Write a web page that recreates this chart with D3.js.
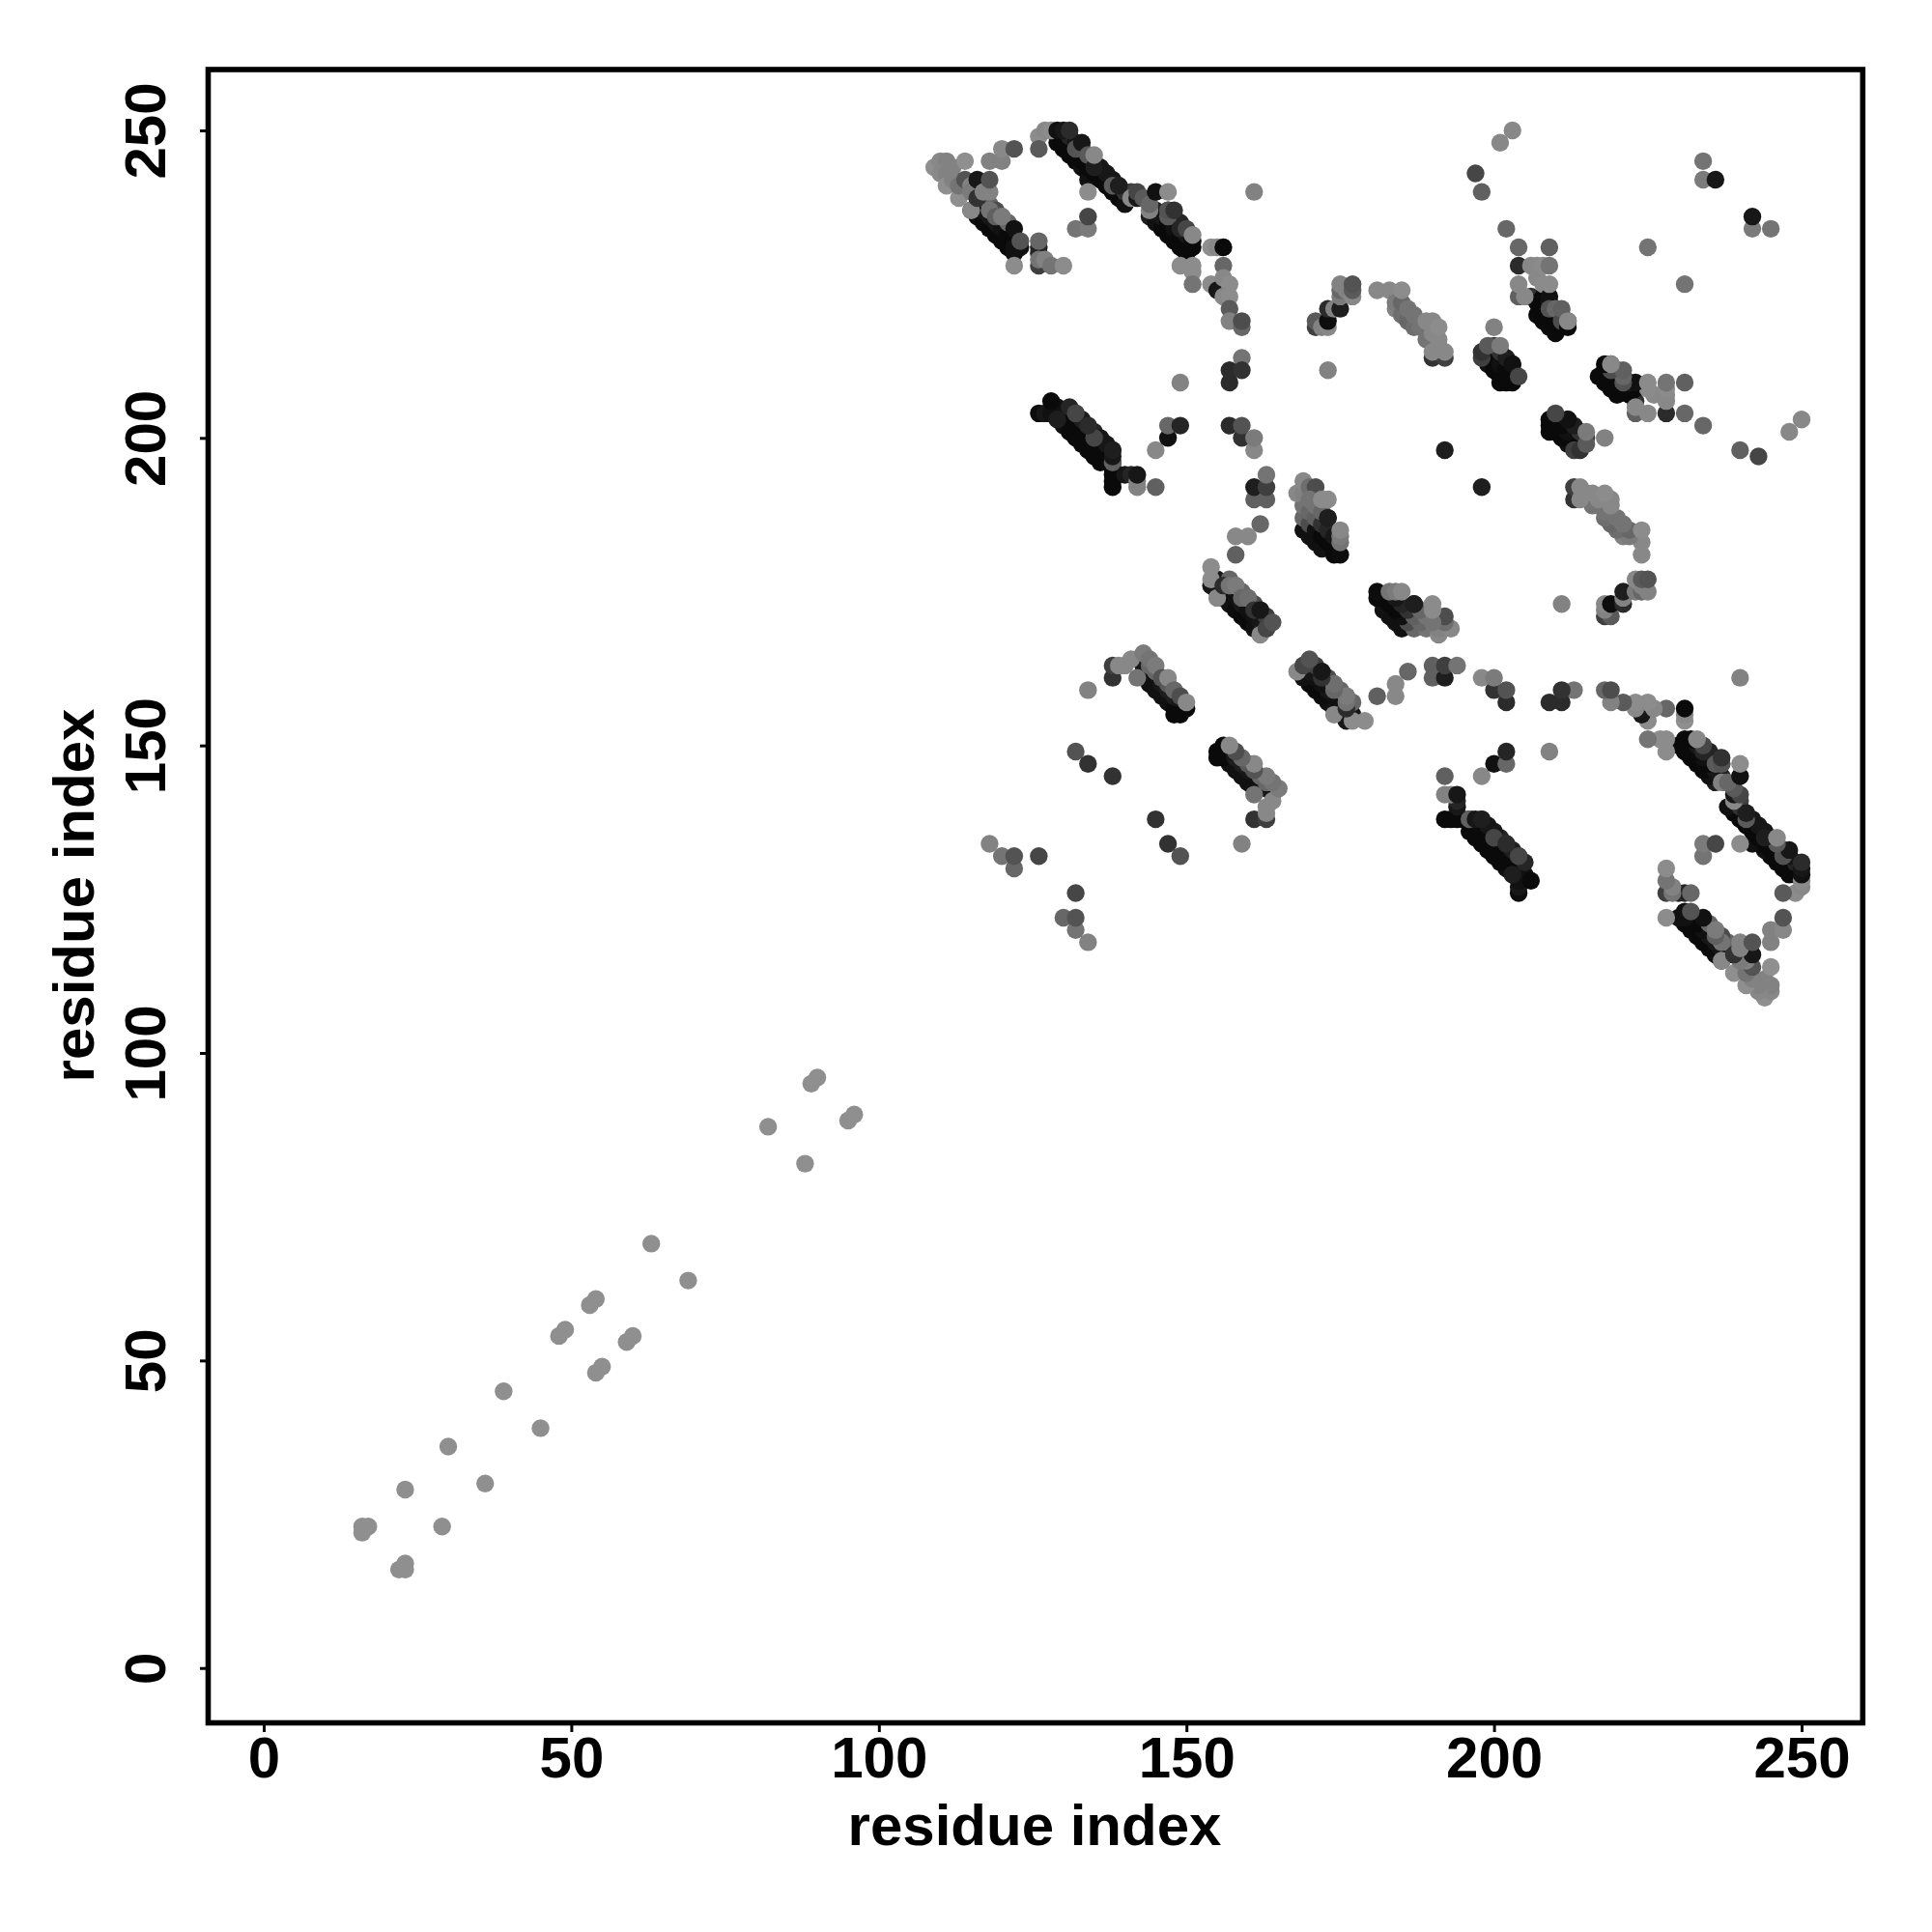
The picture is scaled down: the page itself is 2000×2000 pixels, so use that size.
<!DOCTYPE html>
<html><head><meta charset="utf-8"><script src="https://cdn.jsdelivr.net/npm/d3@7"></script>
<style>html,body{margin:0;background:#fff}svg{display:block}text{font-family:"Liberation Sans",Arial,sans-serif;font-weight:700;fill:#000}</style></head>
<body><div id="c"></div><script>
// contacts [residue i, residue j, strength 0..1], upper triangle; the map is symmetric
const strandUnder=[
[115,237,.9],[116,236,.95],[117,235,.98],[118,234,1],[119,233,1],[120,232,1],[121,231,1],[122,230,.95],
[116,238,.9],[117,237,.9],[118,236,.9],[119,235,.9],[120,234,.95],[121,233,1],[122,232,1],[123,231,.95],
[117,239,.5],[118,238,.3],[119,237,.5],[120,236,.4],[121,235,.3],
[129,248,1],[130,247,1],[131,246,1],[132,245,1],[133,244,.95],[134,243,1],[134,242,.95],
[129,249,1],[130,248,1],[131,247,1],[132,246,1],[133,245,1],[134,244,1],[135,243,1],[136,242,1],[137,241,1],[138,240,1],[139,239,1],[140,238,.95],
[131,249,.8],[132,248,.9],[133,247,.85],[134,246,.6],[135,245,.7],[136,244,.9],[137,243,.9],[138,242,.9],[139,241,.8],[140,240,.7],[141,240,.6],
[144,236,.85],[145,235,.95],[146,234,1],[147,233,1],[148,232,1],[149,231,1],[150,230,1],
[145,237,.8],[146,236,.9],[147,235,1],[148,234,.95],[149,233,1],[150,232,1],[151,231,1],
[147,237,.7],[148,236,.7],[149,235,.8],[150,233,.9],[151,232,1],
[130,202,.95],[131,201,1],[132,200,1],[133,199,1],[134,198,1],[135,197,1],[136,196,1],
[129,205,.95],[130,204,.95],[131,203,1],[132,202,1],[133,201,1],[134,200,1],[135,199,1],[136,198,1],[137,197,1],[138,196,1],[138,195,1],[138,193,1],
[131,205,.8],[132,204,.8],[133,203,.85],[134,202,.85],[135,201,.8],[136,200,.9],[137,199,.9],[138,198,.9],
[155,175,.95],[156,174,.95],[157,173,.95],[158,172,.98],[159,171,1],[160,170,1],[161,169,.95],
[155,177,.9],[156,176,.9],[157,175,.95],[158,174,.95],[159,173,.9],[160,172,.95],[161,171,.95],[162,170,.9],[163,169,.8],
[157,177,.3],[158,176,.3],[159,175,.3],[160,174,.3],[161,173,.5],[162,172,.7],[163,171,.6],
[143,161,.95],[144,160,.95],[145,159,.95],[146,158,.95],[147,157,.95],[148,156,1],[149,155,1],
[142,164,.7],[143,163,.9],[144,162,.9],[145,161,.95],[146,160,.9],[147,159,.85],[148,158,.85],[149,157,.9],[150,156,1],
[144,163,.3],[145,162,.3],[146,161,.4],[147,160,.4],
[169,185,.95],[170,184,.95],[171,183,.95],[172,182,.95],
[169,187,.3],[170,186,.5],[171,185,.95],[172,184,1],[173,183,1],[174,182,1],
[169,189,.2],[170,188,.3],[171,187,.35],[172,186,.7],[173,185,.8],[174,184,.9],
[171,189,.2],[172,188,.3],[173,187,.9],
[199,212,.95],[200,211,1],[201,210,1],[202,209,1],
[199,214,.8],[200,213,1],[201,212,.95],[202,211,1],[203,210,1],
[200,215,.6],[201,214,.7],[202,213,.85],[203,212,.95],
[207,220,1],[208,219,1],[209,218,1],[210,217,1],
[206,223,.7],[207,222,1],[208,221,1],[209,220,1],[210,219,1],[211,218,1],
[208,223,1],[209,222,.9],[210,221,.7],[211,220,.95],[212,219,.8]];
const lowOrder=[[16,22,0],[16,23,0],[17,23,0],[23,29,0],[30,36,0],[39,45,0],[48,54,0],[49,55,0],[53,59,0],[54,60,0],[63,69,0],[82,88,0],[89,95,0],[90,96,0]];
const armA=[[109,244,0],[110,245,.05],[111,245,.1],[110,243,.05],[111,243,.1],[112,244,.1],[111,241,0],[112,242,.1],[113,239,0],[113,241,.2],[114,245,0],[114,242,.45],[115,241,.1],[115,240,.15],[115,237,.05],[116,239,.7],[116,242,.9],[117,240,.1],[118,240,.1],[118,242,.45],[118,245,.1],[120,245,.1],[120,247,.05],[122,247,.45],[118,237,.2],[119,236,.35],[120,236,.15],[122,234,.95],[122,231,.95],[123,232,.45],[122,228,.02],[126,228,.6],[126,230,.8],[126,231,.8],[126,232,.3],[126,229,.2],[127,229,.1],[128,228,.2],[130,228,.02]];
const armB=[[126,249,.02],[127,250,.05],[126,247,.4],[128,250,.02],[129,250,.95],[130,250,.9],[131,250,.75],[132,247,.45],[133,248,.9],[134,240,.02],[134,246,.4],[135,244,.85],[135,246,.05],[138,241,.4],[139,241,.85],[141,239,.05],[142,239,.9],[142,240,.55],[143,239,.4],[144,237,.1],[144,238,.3],[145,240,.95],[147,240,.02],[147,236,.4],[147,237,.45],[148,237,.7],[149,228,.02],[149,234,.8],[150,234,.55],[151,228,.02],[151,227,.02],[151,225,.2],[151,233,.05],[132,234,.2],[134,234,.15],[134,236,.55],[154,225,.02],[154,231,0],[155,224,.9],[155,231,.05],[156,231,1],[156,228,.3],[156,226,.05],[157,225,.02],[156,223,.05],[157,223,.02],[157,221,.4],[157,219,.1],[159,218,.3],[159,219,.5],[159,213,.2],[157,209,.75],[157,211,.75],[159,211,.7],[161,240,.1],[149,209,.1]];
const armC=[[126,204,.98],[127,204,.9],[128,204,.95],[128,206,1],[129,203,.85],[132,204,.55],[135,200,.55],[134,202,.75],[138,192,1],[138,194,1],[138,196,.35],[138,197,.9],[138,198,.85],[140,194,.9],[141,194,.8],[142,192,.1],[142,193,.1],[142,194,.9],[145,192,.35],[145,198,.05],[147,200,.95],[147,202,.3],[149,202,.8],[157,202,.75],[159,200,.7],[159,202,.45],[161,198,.05],[161,200,.15],[158,181,.35],[158,184,.05],[160,184,.05],[161,190,.35],[161,192,.85],[162,186,.3],[163,190,.35],[163,192,.6],[163,194,.2]];
const bandD=[[154,176,.9],[154,177,.02],[154,179,.02],[155,174,.05],[156,176,.75],[157,176,.2],[158,176,.15],[159,174,.3],[160,174,.25],[161,172,.7],[162,168,.05],[162,172,.9],[163,169,.55],[164,170,.45]];
const bandE=[[132,149,.45],[134,147,.7],[134,159,.1],[138,145,.7],[138,161,.7],[138,163,.6],[139,163,.05],[140,163,.05],[141,164,.05],[142,161,.2],[143,165,.15],[144,164,.2],[145,163,.15],[146,161,.45],[147,161,.05],[148,159,.3],[149,158,.5],[148,155,1],[150,157,.05]];
const scatterF=[[118,134,.1],[120,132,.2],[122,130,.3],[122,132,.45],[126,132,.55],[192,198,.85],[173,211,.1],[197,243,.55],[198,240,.35],[201,248,.05],[203,250,.05],[225,231,.2],[234,242,.15],[234,245,.2],[236,242,.9]];
const bandF=[[168,191,.05],[169,191,.1],[169,193,.05],[170,192,.25],[171,192,.5],[170,190,.2],[172,190,.03],[173,187,.85],[173,190,.03],[174,181,1],[175,181,.98],[175,183,.2],[175,184,.15],[175,185,.05]];
const bandG=[[171,218,.6],[171,219,.4],[172,218,.1],[173,218,.05],[173,219,.98],[173,221,.75],[174,221,.1],[175,221,.85],[175,223,.15],[175,224,.3],[175,225,.1],[176,224,.1],[177,223,.05],[177,224,.4],[177,225,.45]];
const bandH=[[181,224,.05],[183,224,.05],[184,221,.1],[184,222,.15],[185,220,.25],[185,222,.3],[185,224,.02],[186,219,.3],[186,221,.2],[187,218,.25],[187,220,.2],[188,218,.2],[189,216,.2],[189,219,.05],[190,213,.7],[192,213,.6],[190,214,.05],[190,217,.05],[190,219,.05],[191,215,.05],[191,216,.05],[191,218,.02],[192,214,.05]];
const bandI=[[198,213,.6],[198,214,.7],[199,215,.4],[200,218,.1],[201,215,.15],[201,209,1],[203,209,1],[203,212,.95],[204,210,.55]];
const bandJ=[[202,234,.3],[204,223,.35],[204,225,.05],[204,228,.75],[204,231,.3],[205,223,.05],[206,228,.05],[207,226,.05],[207,228,.05],[208,225,.03],[208,228,.03],[209,223,.95],[209,225,.03],[209,228,.2],[209,231,.35],[209,221,.45],[210,221,.3],[211,219,.5],[211,221,.35],[212,218,1],[212,219,.05]];
const xTicks=[0,50,100,150,200,250], yTicks=[0,50,100,150,200,250];
const axisTitle="residue index";

const W=2000,H=2000;
const x=d3.scaleLinear().domain([0,250]).range([273,1865]);
const y=d3.scaleLinear().domain([0,250]).range([1726.7,135]);
const shade=d3.scaleLinear().domain([0,1]).range(["#8f8f8f","#0a0a0a"]);
const svg=d3.select("#c").append("svg").attr("width",W).attr("height",H);
const mirror=a=>a.map(d=>[d[1],d[0],d[2]]);
const upper=[...lowOrder,...armA,...armB,...armC,...bandD,...bandE,...scatterF,...bandF,...bandG,...bandH,...bandI,...bandJ];
const all=[...strandUnder,...mirror(strandUnder),...upper,...mirror(upper)];
svg.append("g").selectAll("circle").data(all).join("circle")
 .attr("cx",d=>x(d[0])).attr("cy",d=>y(d[1])).attr("r",9.2).attr("fill",d=>shade(d[2]));
svg.append("rect").attr("x",215.5).attr("y",72).attr("width",1712.8).attr("height",1711.5).attr("fill","none").attr("stroke","#000").attr("stroke-width",5.6);
const ax=svg.append("g").attr("transform","translate(0,1786)").call(d3.axisBottom(x).tickValues(xTicks).tickSize(7).tickPadding(8));
const ay=svg.append("g").attr("transform","translate(213,0)").call(d3.axisLeft(y).tickValues(yTicks).tickSize(6));
[ax,ay].forEach(a=>{a.select(".domain").remove();a.selectAll("line").attr("stroke","#000").attr("stroke-width",3);a.selectAll("text").attr("font-size",60).style("font-family",'"Liberation Sans"').style("font-weight",700);});
ax.selectAll("text").attr("dy",null).attr("y",54).attr("text-anchor","middle");
ay.selectAll("text").attr("x",null).attr("dy",null).attr("text-anchor","middle").attr("transform","translate(-42,0) rotate(-90)");
svg.append("text").attr("x",1071).attr("y",1910).attr("text-anchor","middle").attr("font-size",60).text(axisTitle);
svg.append("text").attr("transform","translate(97,927) rotate(-90)").attr("text-anchor","middle").attr("font-size",60).text(axisTitle);
</script></body></html>
